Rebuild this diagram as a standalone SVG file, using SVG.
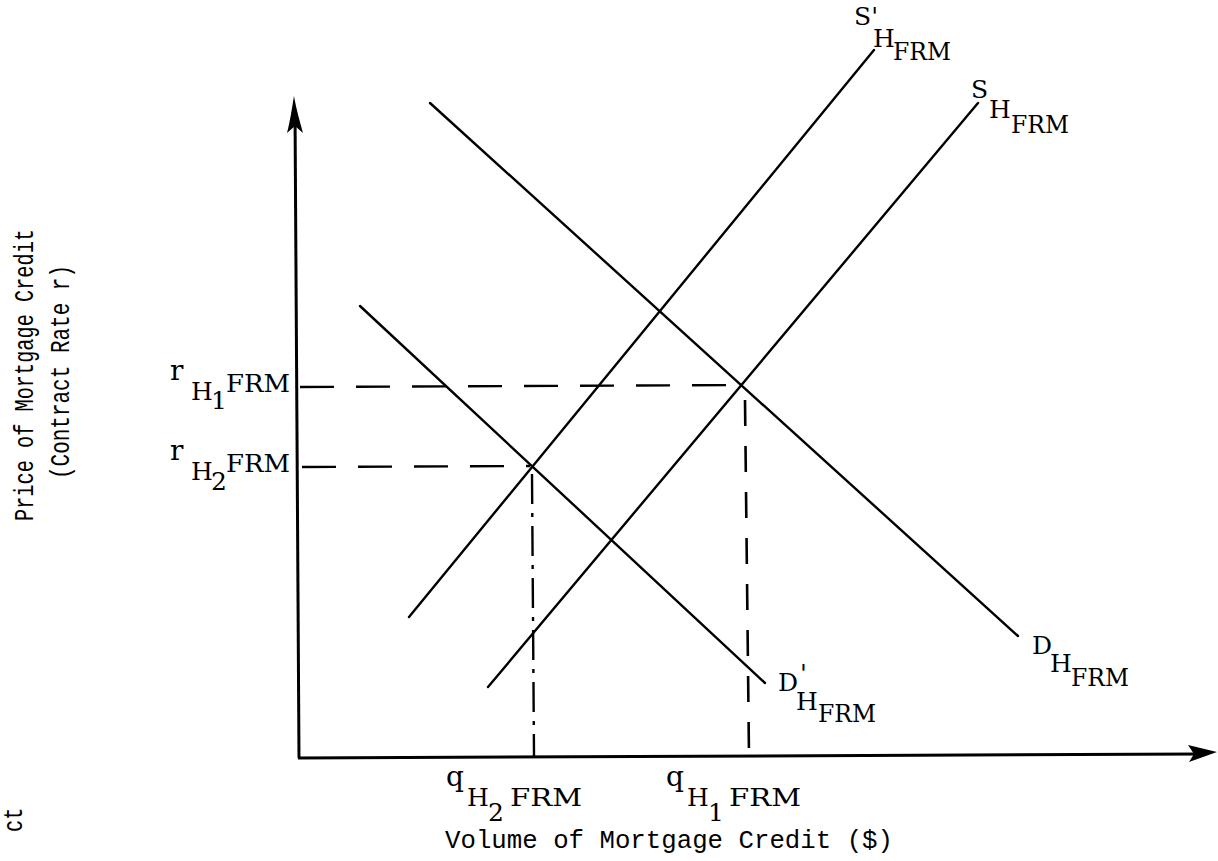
<svg xmlns="http://www.w3.org/2000/svg" width="1218" height="861" viewBox="0 0 1218 861">
<style>
.ln{stroke:#000;stroke-width:2.4;fill:none;stroke-linecap:round}
.ax{stroke:#000;stroke-width:3;fill:none}
.dh{stroke:#000;stroke-width:2.4;fill:none;stroke-dasharray:34 22}
.dv{stroke:#000;stroke-width:2.6;fill:none;stroke-dasharray:26 20}
.dd{stroke:#000;stroke-width:2.4;fill:none;stroke-dasharray:30 9 4 9}
.lb{font-family:"DejaVu Serif","Liberation Serif",serif;font-size:25px;fill:#000}
.lc{font-size:28px}
.ti{font-family:"Liberation Mono","DejaVu Sans Mono",monospace;fill:#000}
</style>
<rect width="1218" height="861" fill="#fff"/>
<g id="axes">
<line class="ax" x1="295" y1="110" x2="299" y2="758"/>
<line class="ax" x1="298" y1="758" x2="1200" y2="754"/>
<path d="M294,96 C296,108 300,122 303,133 L295,126 L287,133 C290,122 292,108 294,96 Z" fill="#000"/>
<path d="M1217,752 L1188,745 L1194,754 L1189,762 Z" fill="#000"/>
</g>
<g id="connectors">
<line id="DH" class="ln" x1="430" y1="103" x2="1018" y2="636"/>
<line id="DpH" class="ln" x1="360" y1="306" x2="765" y2="683"/>
<line id="SpH" class="ln" x1="409" y1="617" x2="874" y2="50"/>
<line id="SH" class="ln" x1="488" y1="687" x2="978" y2="103"/>
<line class="dh" x1="300" y1="387" x2="743" y2="385"/>
<line class="dh" x1="302" y1="467" x2="530" y2="466"/>
<line class="dv" x1="745" y1="400" x2="749" y2="756"/>
<line class="dd" x1="532" y1="474" x2="534" y2="756"/>
</g>
<g id="labels">
<text class="lb"><tspan x="854" y="25">S'</tspan><tspan x="873" y="47">H</tspan><tspan x="893" y="60" textLength="58" lengthAdjust="spacingAndGlyphs">FRM</tspan></text>
<text class="lb"><tspan x="971" y="98">S</tspan><tspan x="989" y="118">H</tspan><tspan x="1011" y="133" textLength="58" lengthAdjust="spacingAndGlyphs">FRM</tspan></text>
<text class="lb"><tspan x="1032" y="654">D</tspan><tspan x="1050" y="672">H</tspan><tspan x="1071" y="686" textLength="58" lengthAdjust="spacingAndGlyphs">FRM</tspan></text>
<text class="lb"><tspan x="778" y="691">D</tspan><tspan x="800" y="682">'</tspan><tspan x="796" y="710">H</tspan><tspan x="818" y="722" textLength="58" lengthAdjust="spacingAndGlyphs">FRM</tspan></text>
<text class="lb"><tspan class="lc" x="170" y="380">r</tspan><tspan x="191" y="400">H</tspan><tspan x="211" y="409">1</tspan><tspan x="226" y="392" textLength="64" lengthAdjust="spacingAndGlyphs">FRM</tspan></text>
<text class="lb"><tspan class="lc" x="170" y="460">r</tspan><tspan x="191" y="480">H</tspan><tspan x="211" y="490">2</tspan><tspan x="226" y="472" textLength="64" lengthAdjust="spacingAndGlyphs">FRM</tspan></text>
<text class="lb"><tspan class="lc" x="446" y="786">q</tspan><tspan x="467" y="806">H</tspan><tspan x="488" y="821">2</tspan><tspan x="510" y="806" textLength="72" lengthAdjust="spacingAndGlyphs">FRM</tspan></text>
<text class="lb"><tspan class="lc" x="666" y="786">q</tspan><tspan x="687" y="806">H</tspan><tspan x="708" y="821">1</tspan><tspan x="729" y="806" textLength="72" lengthAdjust="spacingAndGlyphs">FRM</tspan></text>
</g>
<g id="titles">
<text class="ti" x="445" y="848" font-size="25.7" textLength="448" lengthAdjust="spacingAndGlyphs">Volume of Mortgage Credit ($)</text>
<text class="ti" font-size="20.3" transform="translate(33,521) rotate(-90) scale(1,1.4)" textLength="292" lengthAdjust="spacingAndGlyphs">Price of Mortgage Credit</text>
<text class="ti" font-size="20.3" transform="translate(69,479) rotate(-90) scale(1,1.4)" textLength="214" lengthAdjust="spacingAndGlyphs">(Contract Rate r)</text>
<text class="ti" font-size="20.3" transform="translate(22,832) rotate(-90) scale(1,1.4)">ct</text>
</g>
</svg>
